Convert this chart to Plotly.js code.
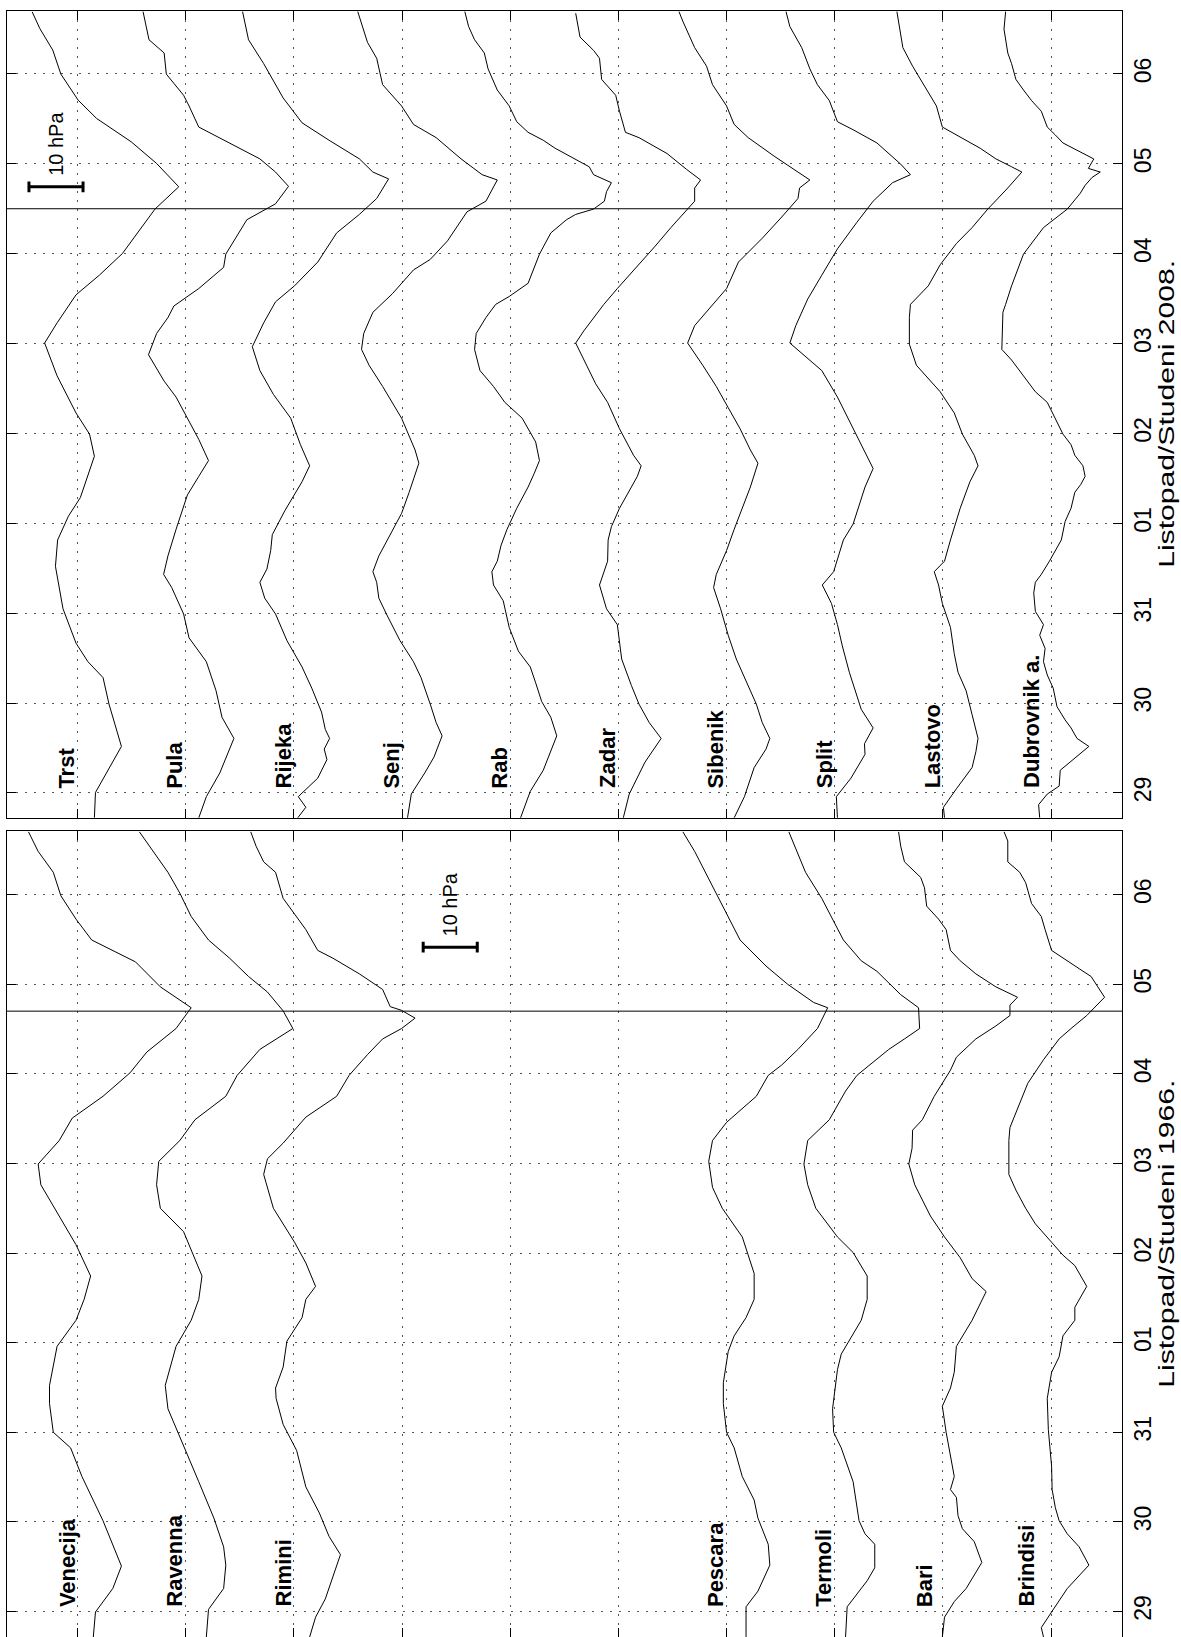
<!DOCTYPE html>
<html><head><meta charset="utf-8">
<script src="https://cdn.plot.ly/plotly-3.0.1.min.js"></script>
<style>html,body{margin:0;padding:0;background:#fff;}#chart{width:1181px;height:1637px;}</style>
</head><body><div id="chart"></div>
<script>
// ---- axis ticks (days since 29 Oct, 00h) ----
const dayTicks = [0,1,2,3,4,5,6,7,8];
const dayLabels = ['29','30','31','01','02','03','04','05','06'];
const event2008 = 6.5;   // vertical marker (Nov 4, 12h)
const event1966 = 6.7;
const scaleHpa = 10;
const title2008 = 'Listopad/Studeni 2008.';
const title1966 = 'Listopad/Studeni 1966.';

// ---- 2008 stations (time in days, pressure in plotted hPa units) ----
const stations2008 = ['Trst','Pula','Rijeka','Senj','Rab','Zadar','Sibenik','Split','Lastovo','Dubrovnik a.'];
const t_Trst = [-0.277,0.006,0.518,0.989,1.284,1.461,1.667,2.049,2.521,2.815,3.080,3.286,3.746,3.993,4.228,4.641,5.006,5.230,5.542,5.760,6.003,6.496,6.744,7.004,7.245,7.505,7.708,7.998,8.265,8.506,8.69];
const p_Trst = [196.9,196.7,191.9,194.2,195.3,198.1,200.3,202.7,204.1,203.7,201.7,199.5,196.9,197.8,200.3,203.8,206.1,203.8,200.3,196.0,191.7,185.7,181.3,185.4,190.1,196.5,199.9,203.1,204.6,207.0,208.4];
const t_Pula = [-0.277,-0.041,0.224,0.607,0.842,1.137,1.461,1.726,1.991,2.285,2.432,2.638,2.933,3.316,3.522,3.698,3.934,4.170,4.405,4.582,4.876,5.112,5.289,5.418,5.612,5.848,5.995,6.378,6.555,6.749,6.908,7.055,7.232,7.409,7.644,7.762,7.998,8.233,8.380,8.693];
const p_Pula = [177.6,176.2,173.7,171.1,173.3,174.4,176.2,179.4,180.4,182.6,184.1,183.3,181.8,179.7,177.6,175.8,177.6,179.7,181.8,184.0,186.9,185.4,183.3,182.2,177.6,173.0,172.6,168.7,163.4,161.0,163.4,166.3,171.9,177.6,179.4,180.4,183.6,184.0,186.8,187.9];
const t_Rijeka = [-0.277,-0.159,-0.041,0.165,0.371,0.489,0.607,0.707,0.901,1.166,1.402,1.696,1.991,2.167,2.344,2.491,2.697,2.874,3.139,3.463,3.640,3.875,4.170,4.435,4.700,4.965,5.230,5.465,5.642,5.907,6.231,6.437,6.614,6.832,6.908,7.055,7.262,7.456,7.733,7.880,8.115,8.380,8.693];
const p_Rijeka = [159.3,157.8,159.2,155.6,153.9,154.4,153.4,154.2,154.9,156.7,158.5,161.3,163.4,165.4,166.3,165.0,164.3,164.0,161.7,158.5,157.1,158.8,160.6,163.8,166.3,167.7,165.6,163.4,159.9,155.6,152.1,147.9,144.7,142.5,145.4,147.9,153.5,158.5,162.0,163.4,165.6,168.4,169.5];
const t_Senj = [-0.277,-0.012,0.224,0.400,0.636,0.783,0.989,1.284,1.461,1.696,1.991,2.167,2.344,2.462,2.638,2.874,3.110,3.345,3.669,3.816,4.170,4.523,4.758,4.935,5.112,5.348,5.554,5.819,5.936,6.143,6.466,6.584,6.702,6.820,6.879,7.055,7.291,7.438,7.644,7.880,8.174,8.351,8.693];
const p_Senj = [139.0,138.3,135.8,134.1,132.6,133.7,134.8,136.5,137.9,140.4,142.9,144.3,144.7,145.4,144.3,142.2,140.1,138.7,136.9,137.6,140.1,143.6,146.1,147.5,147.1,145.4,141.8,137.9,134.8,131.6,128.0,124.5,123.4,122.4,125.2,129.1,133.7,137.9,140.1,143.6,144.7,146.4,148.2];
const t_Rab = [-0.277,0.018,0.253,0.636,0.842,1.019,1.225,1.402,1.578,1.843,2.138,2.314,2.462,2.579,2.756,2.933,3.168,3.404,3.551,3.698,3.905,4.170,4.346,4.523,4.700,4.935,5.112,5.289,5.436,5.524,5.671,5.995,6.231,6.378,6.437,6.496,6.584,6.690,6.790,6.879,6.967,7.055,7.173,7.262,7.350,7.468,7.644,7.821,8.056,8.233,8.380,8.527,8.693];
const p_Rab = [118.1,116.3,113.9,111.4,112.5,114.2,115.3,116.3,118.5,120.2,121.3,123.1,123.4,122.4,121.7,120.6,118.8,116.7,115.6,114.6,115.3,117.8,121.0,123.1,125.6,126.6,126.3,124.5,122.7,120.2,116.7,114.6,112.5,109.6,107.9,104.6,102.6,102.2,101.3,104.6,105.4,108.2,111.7,113.9,116.7,118.8,120.2,122.4,124.1,124.8,126.6,127.7,128.4];
const t_Zadar = [-0.277,-0.012,0.342,0.607,0.783,0.989,1.196,1.490,1.873,2.049,2.314,2.579,2.815,2.962,3.168,3.522,3.640,3.757,4.052,4.346,4.552,4.817,5.006,5.141,5.436,5.612,5.877,6.084,6.290,6.437,6.584,6.731,6.820,6.938,7.114,7.291,7.350,7.585,7.762,7.939,8.174,8.262,8.410,8.675];
const p_Zadar = [99.1,98.0,95.1,92.1,94.3,96.2,97.6,99.4,100.2,102.2,103.5,102.0,101.9,101.3,99.8,96.5,95.8,97.2,99.8,102.0,104.2,106.4,107.9,106.4,102.7,100.2,96.2,93.2,90.3,88.1,85.9,85.9,84.8,87.4,91.0,96.2,98.7,99.8,100.5,103.1,103.5,104.6,107.1,107.9];
const t_Sibenik = [-0.277,-0.041,0.283,0.489,0.607,0.783,0.989,1.196,1.490,1.755,2.049,2.285,2.432,2.697,2.933,3.404,3.669,3.816,4.052,4.287,4.523,4.758,5.006,5.200,5.406,5.612,5.907,6.172,6.408,6.614,6.731,6.820,6.908,7.085,7.291,7.438,7.644,7.880,8.086,8.292,8.587,8.693];
const p_Sibenik = [78.6,76.7,74.9,72.7,72.0,73.4,74.5,76.0,78.2,79.7,81.1,82.4,81.9,80.0,78.6,75.6,74.2,75.6,77.5,79.7,81.9,84.4,87.2,85.9,83.0,80.0,77.8,73.4,69.8,66.8,66.5,64.6,66.8,71.2,76.0,78.6,80.0,82.6,83.7,85.9,88.1,88.8];
const t_Split = [-0.277,-0.041,0.165,0.430,0.548,0.724,0.931,1.078,1.343,1.637,1.873,2.108,2.314,2.462,2.815,2.992,3.404,3.610,3.787,4.052,4.405,4.700,4.935,5.006,5.200,5.495,5.760,6.054,6.349,6.584,6.790,6.879,6.996,7.232,7.379,7.468,7.703,7.880,8.056,8.292,8.527,8.693];
const p_Split = [59.5,59.7,57.0,54.4,54.5,52.9,55.1,55.9,57.3,58.6,59.5,60.6,62.3,60.2,58.4,56.6,54.4,52.9,54.4,56.6,59.5,62.4,66.8,68.3,67.2,65.0,62.4,59.5,55.9,52.9,49.3,46.0,47.8,52.2,56.6,59.5,61.0,63.2,64.6,66.1,68.3,69.0];
const t_Lastovo = [-0.277,-0.159,0.047,0.283,0.459,0.607,0.872,1.137,1.343,1.549,1.843,2.108,2.314,2.462,2.579,2.815,3.168,3.463,3.640,3.757,3.993,4.228,4.464,4.611,4.759,4.994,5.289,5.436,5.642,5.877,6.113,6.290,6.496,6.731,6.908,6.967,7.055,7.173,7.350,7.409,7.644,7.821,8.086,8.292,8.587,8.693];
const p_Lastovo = [39.7,39.9,37.5,34.6,33.9,33.5,34.6,35.7,37.2,37.9,38.6,40.1,40.8,41.6,39.7,38.6,36.8,35.0,33.5,34.2,36.4,37.9,40.5,42.7,44.9,46.2,46.2,46.0,42.7,40.5,37.5,34.6,31.7,28.0,25.4,27.3,30.2,33.1,38.3,40.1,41.2,43.0,45.6,47.4,48.2,48.5];
const t_Dubrovnik = [-0.277,-0.130,-0.012,0.077,0.253,0.518,0.607,0.724,0.813,0.960,1.166,1.313,1.461,1.608,1.755,1.873,2.020,2.226,2.344,2.432,2.579,2.697,2.815,3.021,3.168,3.345,3.433,3.522,3.640,3.757,3.875,3.993,4.170,4.346,4.464,4.641,4.817,4.935,5.348,5.436,5.642,5.995,6.290,6.496,6.672,6.760,6.849,6.908,6.949,7.054,7.113,7.232,7.320,7.409,7.585,7.703,7.821,7.939,8.115,8.233,8.498,8.693];
const p_Dubrovnik = [22.1,22.3,20.7,18.5,18.3,13.0,15.2,16.3,17.4,18.9,19.6,20.7,21.4,21.1,22.1,21.4,22.9,23.2,22.9,21.8,20.3,19.2,18.1,17.4,16.3,15.6,14.5,13.7,14.1,15.6,16.3,17.8,19.2,20.7,22.9,25.1,27.3,29.1,28.9,28.4,27.3,25.1,21.4,17.0,14.6,13.7,12.4,10.9,13.1,12.1,14.0,17.8,19.2,20.7,21.8,23.6,25.1,26.5,27.3,28.0,28.7,28.4];

// ---- 1966 stations ----
const stations1966 = ['Venecija','Ravenna','Rimini','Pescara','Termoli','Bari','Brindisi'];
const t_Venecija = [-0.285,-0.006,0.256,0.506,1.012,1.273,1.506,1.826,2.000,2.320,2.523,2.959,3.017,3.250,3.483,3.744,4.093,4.413,4.762,4.994,5.256,5.506,5.750,6.012,6.244,6.506,6.738,6.971,7.250,7.494,7.727,7.988,8.250,8.483,8.703];
const p_Venecija = [197.1,196.7,193.5,191.9,195.3,197.4,199.2,201.3,204.5,205.2,205.2,203.8,203.1,200.3,198.8,197.6,200.3,203.4,206.8,207.3,203.4,201.0,195.3,190.3,187.2,181.8,179.0,184.7,189.3,197.4,200.3,203.1,204.5,207.3,209.1];
const t_Ravenna = [-0.285,0.023,0.256,0.517,0.721,1.041,1.448,1.855,2.262,2.523,2.959,3.250,3.483,3.744,4.238,4.500,4.762,5.023,5.256,5.488,5.750,5.983,6.273,6.506,6.703,6.913,7.087,7.291,7.494,7.756,8.017,8.250,8.483,8.703];
const p_Ravenna = [176.2,175.8,173.0,172.6,173.0,174.8,177.6,180.4,183.3,183.8,181.8,179.0,177.6,177.0,180.4,184.7,185.4,185.0,181.1,178.3,172.6,170.5,166.3,160.2,162.0,164.9,168.4,171.9,175.8,179.0,181.1,183.3,186.1,188.6];
const t_Rimini = [-0.285,-0.064,0.140,0.430,0.634,0.837,1.099,1.390,1.797,2.087,2.378,2.494,2.727,3.017,3.279,3.483,3.628,3.890,4.122,4.500,4.878,5.052,5.227,5.517,5.750,5.983,6.215,6.390,6.506,6.622,6.709,6.750,6.942,7.116,7.291,7.378,7.610,7.785,7.959,8.250,8.366,8.541,8.703];
const p_Rimini = [157.1,156.0,154.2,152.5,151.4,153.5,155.3,157.8,159.5,162.0,163.3,163.4,162.0,161.3,158.5,157.8,156.0,157.8,159.9,163.8,165.6,164.9,162.0,157.8,152.1,149.8,146.4,143.6,140.1,137.6,140.1,142.2,143.6,147.9,152.8,155.6,157.8,159.9,162.0,163.4,165.6,167.0,168.0];
const t_Pescara = [-0.285,0.052,0.227,0.517,0.750,1.041,1.244,1.506,1.826,2.000,2.320,2.552,2.901,3.076,3.279,3.483,3.773,4.180,4.500,4.733,5.023,5.256,5.459,5.576,5.750,5.983,6.099,6.273,6.506,6.738,6.797,7.000,7.203,7.494,7.785,8.134,8.483,8.703];
const p_Pescara = [76.4,76.4,74.2,72.0,72.3,74.2,74.9,77.1,78.6,80.0,80.6,80.6,79.7,78.6,76.4,74.9,74.9,77.1,80.8,82.6,83.3,82.6,80.0,77.8,74.5,72.3,69.8,66.8,63.2,61.3,63.9,68.7,72.7,77.5,80.0,83.0,85.9,88.1];
const t_Termoli = [-0.285,0.052,0.343,0.488,0.750,0.866,1.012,1.448,1.826,2.000,2.262,2.698,2.872,3.250,3.483,3.744,4.006,4.180,4.500,4.762,4.994,5.256,5.488,5.808,5.983,6.273,6.390,6.506,6.738,6.884,7.145,7.262,7.494,7.959,8.250,8.703];
const p_Termoli = [58.0,57.7,54.0,52.6,52.6,54.4,55.5,56.6,58.8,60.2,60.4,59.5,58.8,55.1,54.0,54.0,56.6,59.5,63.5,65.0,65.7,65.0,61.0,58.0,55.9,50.0,47.1,44.3,44.5,47.8,52.2,55.1,58.4,62.4,65.4,68.5];
const t_Bari = [-0.285,-0.064,0.110,0.256,0.547,0.779,0.924,1.070,1.273,1.360,1.506,1.738,2.000,2.291,2.494,2.669,2.959,3.250,3.570,3.715,3.948,4.180,4.413,4.762,4.994,5.169,5.372,5.488,5.750,6.041,6.186,6.390,6.535,6.651,6.767,6.855,6.971,7.116,7.262,7.378,7.610,7.727,7.872,8.076,8.192,8.366,8.541,8.703];
const p_Bari = [40.1,39.7,37.9,35.7,32.8,34.2,36.4,37.2,37.5,38.6,37.9,38.6,39.4,40.1,38.6,37.9,37.5,34.6,32.0,34.6,36.8,39.7,42.3,45.2,46.3,45.7,45.6,43.8,41.6,38.6,37.5,33.9,30.2,27.6,27.6,26.2,30.2,33.9,36.8,38.6,39.4,40.8,43.0,43.4,44.1,47.1,47.8,48.2];
const t_Brindisi = [-0.285,-0.180,-0.006,0.256,0.517,0.721,0.866,1.012,1.157,1.360,1.622,2.029,2.378,2.669,2.843,3.076,3.250,3.395,3.628,3.860,3.977,4.180,4.326,4.500,4.703,4.878,5.256,5.401,5.605,5.895,6.157,6.390,6.506,6.651,6.855,7.087,7.174,7.262,7.378,7.610,7.756,7.901,8.134,8.250,8.366,8.599,8.703];
const p_Brindisi = [21.4,21.8,19.9,17.0,13.0,14.8,17.0,18.5,19.2,19.8,19.9,20.5,20.7,19.9,18.5,17.8,15.6,15.6,13.4,15.6,17.8,20.7,22.9,24.7,26.5,27.8,27.8,27.6,26.2,24.3,21.4,18.5,16.3,13.4,10.1,12.6,14.8,17.0,19.9,21.1,21.8,23.6,24.7,25.8,28.0,28.0,28.7];

// ---- build ----
const series2008 = [[t_Trst,p_Trst],[t_Pula,p_Pula],[t_Rijeka,p_Rijeka],[t_Senj,p_Senj],[t_Rab,p_Rab],[t_Zadar,p_Zadar],[t_Sibenik,p_Sibenik],[t_Split,p_Split],[t_Lastovo,p_Lastovo],[t_Dubrovnik,p_Dubrovnik]];
const series1966 = [[t_Venecija,p_Venecija],[t_Ravenna,p_Ravenna],[t_Rimini,p_Rimini],[t_Pescara,p_Pescara],[t_Termoli,p_Termoli],[t_Bari,p_Bari],[t_Brindisi,p_Brindisi]];
const label2008X = [202,182,162,142,122,102,82,62,42,23.5];
const label1966X = [202,182,162,82,62,43.5,24.5];

const FONT = 'Liberation Sans, Arial, Helvetica, sans-serif';
const traces = [];
function addLine(s, name, xa, ya){
  traces.push({type:'scatter', mode:'lines', x:s[1], y:s[0], name:name, xaxis:xa, yaxis:ya,
    line:{color:'#000', width:1}, hoverinfo:'skip', showlegend:false});
}
series2008.forEach((s,i)=>addLine(s, stations2008[i], 'x', 'y'));
series1966.forEach((s,i)=>addLine(s, stations1966[i], 'x2', 'y2'));

const annotations = [];
function addLabel(txt, x, xr, yr){
  annotations.push({text:txt, x:x, y:0.03, xref:xr, yref:yr, showarrow:false, textangle:-90,
    xanchor:'center', yanchor:'bottom', font:{family:FONT, size:22, color:'#000', weight:'bold'}});
}
stations2008.forEach((s,i)=>addLabel(s, label2008X[i], 'x', 'y'));
stations1966.forEach((s,i)=>addLabel(s, label1966X[i], 'x2', 'y2'));

// axis titles (placed to the right of the date labels)
[[title2008,'y domain'],[title1966,'y2 domain']].forEach(([txt,yr])=>{
  annotations.push({text:txt, xref:'paper', yref:yr, x:1.0395, y:0.5, showarrow:false, textangle:-90,
    xanchor:'center', yanchor:'middle', font:{family:FONT, size:22, color:'#000'}});
});

const shapes = [];
function scaleBar(x0, t, xr, yr){
  const x1 = x0 - scaleHpa, c = 0.06;
  shapes.push({type:'line', xref:xr, yref:yr, x0:x0, x1:x1, y0:t, y1:t, line:{color:'#000', width:3}});
  shapes.push({type:'line', xref:xr, yref:yr, x0:x0, x1:x0, y0:t-c, y1:t+c, line:{color:'#000', width:3}});
  shapes.push({type:'line', xref:xr, yref:yr, x0:x1, x1:x1, y0:t-c, y1:t+c, line:{color:'#000', width:3}});
  annotations.push({text:scaleHpa+' hPa', x:x0-scaleHpa/2, y:t+0.1, xref:xr, yref:yr, showarrow:false, textangle:-90,
    xanchor:'center', yanchor:'bottom', font:{family:FONT, size:20, color:'#000'}});
}
scaleBar(209, 6.744, 'x', 'y');
scaleBar(136.1, 7.414, 'x2', 'y2');
shapes.push({type:'line', xref:'x domain', yref:'y', x0:0, x1:1, y0:event2008, y1:event2008, line:{color:'#000', width:1}});
shapes.push({type:'line', xref:'x2 domain', yref:'y2', x0:0, x1:1, y0:event1966, y1:event1966, line:{color:'#000', width:1}});

const gridVals = []; for(let v=20; v<=200; v+=20) gridVals.push(v);
function xAxis(anchor){
  return {anchor:anchor, domain:[0,1], range:[213.06, 6.88], tickvals:gridVals, showticklabels:false,
    ticks:'inside', ticklen:9, tickcolor:'#000', tickwidth:1, showline:true, linecolor:'#000', linewidth:1,
    mirror:'ticks', showgrid:true, gridcolor:'#555', gridwidth:1, griddash:'2px,7px', zeroline:false, fixedrange:true};
}
function yAxis(anchor, dom, rng){
  return {anchor:anchor, domain:dom, range:rng, side:'right', tickvals:dayTicks, ticktext:dayLabels, tickangle:-90,
    ticks:'inside', ticklen:9, tickcolor:'#000', tickwidth:1, showline:true, linecolor:'#000', linewidth:1,
    mirror:'ticks', showgrid:true, gridcolor:'#555', gridwidth:1, griddash:'2px,7px', zeroline:false, fixedrange:true,
    tickfont:{family:FONT, size:23, color:'#000'}};
}

const layout = {
  width:1181, height:1637, paper_bgcolor:'#fff', plot_bgcolor:'#fff',
  margin:{l:7, r:59, t:11, b:0}, showlegend:false,
  xaxis: xAxis('y'), yaxis: yAxis('x', [0.50387,1], [-0.275, 8.70]),
  xaxis2: xAxis('y2'), yaxis2: yAxis('x2', [0,0.49539], [-0.285, 8.705]),
  annotations: annotations, shapes: shapes
};
const titleLength = 308;  // rendered length of the (wide-set) axis titles, px
Plotly.newPlot('chart', traces, layout, {staticPlot:true, displayModeBar:false}).then(gd=>{
  gd.querySelectorAll('text.annotation-text').forEach(el=>{
    if(el.textContent.indexOf('Listopad')===0){
      el.setAttribute('textLength', titleLength);
      el.setAttribute('lengthAdjust', 'spacingAndGlyphs');
    }
  });
});
</script></body></html>
